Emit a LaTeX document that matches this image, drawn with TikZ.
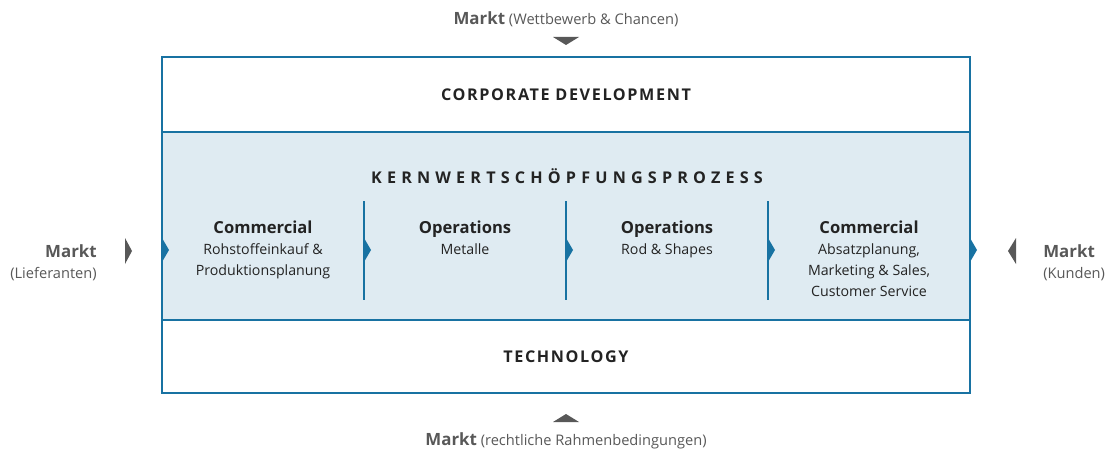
\documentclass[tikz,border=0pt]{standalone}
\usepackage{fontspec}
\setmainfont{Open Sans}
\newfontfamily\weitsperr[LetterSpace=32]{Open Sans}
\newfontfamily\leichtsperr[LetterSpace=10]{Open Sans}
\definecolor{rahmenblau}{RGB}{24,114,162}
\definecolor{kernblau}{RGB}{223,235,242}
\definecolor{marktgrau}{RGB}{88,88,88}
\definecolor{textgrau}{RGB}{35,35,35}

\begin{document}
\begin{tikzpicture}[x=0.25mm,y=-0.25mm,
  band/.style={draw=rahmenblau,line width=1.3pt,inner sep=0pt,minimum width=202mm},
  spalte/.style={align=center,anchor=north,text=textgrau,font=\fontsize{10.1}{15}\selectfont},
  markt/.style={text=marktgrau,font=\fontsize{10.4}{15}\selectfont},
  trenner/.style={rahmenblau,line width=1.3pt}]
  \useasboundingbox (0,0) rectangle (1105,450);
  % Baender
  \node[band,minimum height=18.75mm] (corp) at (566,94.5) {};
  \node[band,fill=kernblau,minimum height=47mm] (kern) at (566,226) {};
  \node[band,minimum height=18.25mm] (tech) at (566,356.5) {};
  \node[text=textgrau,font=\leichtsperr\bfseries\fontsize{11.5}{12}\selectfont] (corptxt) at (corp.center) {CORPORATE DEVELOPMENT};
  \node[text=textgrau,font=\weitsperr\bfseries\fontsize{11.5}{12}\selectfont] (kerntxt) at (567,176) {KERNWERTSCHÖPFUNGSPROZESS};
  \node[text=textgrau,font=\leichtsperr\bfseries\fontsize{11.5}{12}\selectfont] (techtxt) at (tech.center) {TECHNOLOGY};
  % Spalten
  \foreach \x in {364,566,768}
    \draw[trenner] (\x,201) -- (\x,300);
  \foreach \x in {162,364,566,768,970}
    \fill[rahmenblau] (\x,238) -- ++(7,12) -- (\x,262) -- cycle;
  \node[spalte] (s1) at (263,216) {{\fontsize{11.8}{15}\selectfont\bfseries Commercial}\\Rohstoffeinkauf \&\\Produktionsplanung};
  \node[spalte] (s2) at (465,216) {{\fontsize{11.8}{15}\selectfont\bfseries Operations}\\Metalle};
  \node[spalte] (s3) at (667,216) {{\fontsize{11.8}{15}\selectfont\bfseries Operations}\\Rod \& Shapes};
  \node[spalte] (s4) at (869,216) {{\fontsize{11.8}{15}\selectfont\bfseries Commercial}\\Absatzplanung,\\Marketing \& Sales,\\Customer Service};
  % Markt
  \fill[marktgrau] (125,238) -- (132,251) -- (125,264) -- cycle;
  \fill[marktgrau] (1016,238) -- (1008,251) -- (1016,264) -- cycle;
  \fill[marktgrau] (553,37) -- (579,37) -- (566,45) -- cycle;
  \fill[marktgrau] (553,422) -- (579,422) -- (566,414) -- cycle;
  \node[markt,align=right,anchor=east,inner sep=0pt] (mlinks) at (97,263) {{\fontsize{12}{15}\selectfont\bfseries Markt}\\(Lieferanten)};
  \node[markt,align=left,anchor=west,inner sep=0pt] (mrechts) at (1043,263) {{\fontsize{12}{15}\selectfont\bfseries Markt}\\(Kunden)};
  \node[markt] (moben) at (566,19) {{\fontsize{12}{15}\selectfont\bfseries Markt} (Wettbewerb \& Chancen)};
  \node[markt] (munten) at (566,441) {{\fontsize{12}{15}\selectfont\bfseries Markt} (rechtliche Rahmenbedingungen)};
\end{tikzpicture}
\end{document}
